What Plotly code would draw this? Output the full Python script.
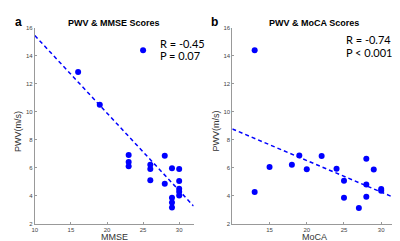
import plotly.graph_objects as go

# Panel a: MMSE vs PWV
mmse_x = [25, 16, 19, 23, 23, 23, 26, 26, 26, 28, 28, 29, 29, 29, 29, 30, 30, 30, 30, 30]
mmse_y = [14.4, 12.85, 10.5, 6.9, 6.4, 6.1, 6.2, 5.9, 5.1, 6.85, 4.85, 5.95, 3.85, 3.5, 3.15, 5.9, 5.05, 4.5, 4.27, 4.0]
mmse_fit_x = [10, 32]
mmse_fit_y = [15.45, 3.25]

# Panel b: MoCA vs PWV
moca_x = [13, 13, 15, 18, 19, 20, 22, 24, 25, 25, 27, 28, 28, 28, 29, 30, 30]
moca_y = [14.4, 4.25, 6.05, 6.2, 6.87, 5.88, 6.83, 5.93, 5.07, 3.85, 3.12, 6.63, 4.8, 3.92, 5.87, 4.48, 4.35]
moca_fit_x = [10, 32]
moca_fit_y = [8.77, 3.8]

titles = ["PWV & MMSE Scores", "PWV & MoCA Scores"]
xlabels = ["MMSE", "MoCA"]
stats = [["R = -0.45", "P = 0.07"], ["R = -0.74", "P < 0.001"]]
yticks = [2, 4, 6, 8, 10, 12, 14, 16]

BLUE = "#0000ff"
fig = go.Figure()

fig.add_trace(go.Scatter(x=mmse_fit_x, y=mmse_fit_y, mode="lines",
                         line=dict(color=BLUE, width=1.5, dash="4px,3px"),
                         xaxis="x", yaxis="y", showlegend=False, hoverinfo="skip"))
fig.add_trace(go.Scatter(x=mmse_x, y=mmse_y, mode="markers",
                         marker=dict(color=BLUE, size=6),
                         xaxis="x", yaxis="y", showlegend=False))
fig.add_trace(go.Scatter(x=moca_fit_x, y=moca_fit_y, mode="lines",
                         line=dict(color=BLUE, width=1.5, dash="4px,3px"),
                         xaxis="x2", yaxis="y2", showlegend=False, hoverinfo="skip"))
fig.add_trace(go.Scatter(x=moca_x, y=moca_y, mode="markers",
                         marker=dict(color=BLUE, size=6),
                         xaxis="x2", yaxis="y2", showlegend=False))

W, H = 400, 241
ybot = (H - 218) / H
ytop = (H - 17.3) / H
dom1 = [24 / W, 184 / W]
dom2 = [223 / W, 388 / W]

tickfont = dict(family="Liberation Sans, Arial", size=6, color="#444")
axcommon = dict(showgrid=False, zeroline=False, showline=True, linecolor="#999",
                linewidth=1, ticks="inside", ticklen=2, tickcolor="#999",
                tickfont=tickfont, mirror=False)

fig.update_layout(
    width=W, height=H,
    margin=dict(l=0, r=0, t=0, b=0),
    paper_bgcolor="white", plot_bgcolor="white",
    xaxis=dict(domain=dom1, range=[10, 32], tickvals=[10, 15, 20, 25, 30],
               anchor="y", **axcommon),
    yaxis=dict(domain=[ybot, ytop], range=[2, 16], tickvals=yticks,
               anchor="x", **axcommon),
    xaxis2=dict(domain=dom2, range=[10, 32], tickvals=[15, 20, 25, 30],
                anchor="y2", **axcommon),
    yaxis2=dict(domain=[ybot, ytop], range=[2, 16], tickvals=yticks,
                anchor="x2", **axcommon),
)

anns = []
centers = [(dom1[0] + dom1[1]) / 2, (dom2[0] + dom2[1]) / 2]
letters = ["a", "b"]
letter_x = [8 / W, 205 / W]
ylab_x = [7 / W, 206 / W]
stat_x = [148 / W, 336 / W]
stat_y = [[33, 46], [29, 43]]
for i in range(2):
    anns.append(dict(text="<b>" + titles[i] + "</b>", x=centers[i], y=1 - 12 / H,
                     xref="paper", yref="paper", showarrow=False,
                     xanchor="center", yanchor="middle",
                     font=dict(family="Liberation Sans, Arial", size=9, color="black")))
    anns.append(dict(text="<b>" + letters[i] + "</b>", x=letter_x[i], y=1 - 11 / H,
                     xref="paper", yref="paper", showarrow=False,
                     xanchor="center", yanchor="middle",
                     font=dict(family="Liberation Sans, Arial", size=12, color="black")))
    anns.append(dict(text=xlabels[i], x=centers[i], y=1 - 232 / H,
                     xref="paper", yref="paper", showarrow=False,
                     xanchor="center", yanchor="middle",
                     font=dict(family="Liberation Sans, Arial", size=9, color="#333")))
    anns.append(dict(text="PWV(m/s)", x=ylab_x[i], y=1 - 123 / H, textangle=-90,
                     xref="paper", yref="paper", showarrow=False,
                     xanchor="center", yanchor="middle",
                     font=dict(family="Liberation Sans, Arial", size=9, color="#333")))
    for j in range(2):
        anns.append(dict(text=stats[i][j], x=stat_x[i], y=1 - stat_y[i][j] / H,
                         xref="paper", yref="paper", showarrow=False,
                         xanchor="left", yanchor="middle",
                         font=dict(family="Lato, Open Sans", size=11, color="black")))
fig.update_layout(annotations=anns)

fig.write_html("out.html")
